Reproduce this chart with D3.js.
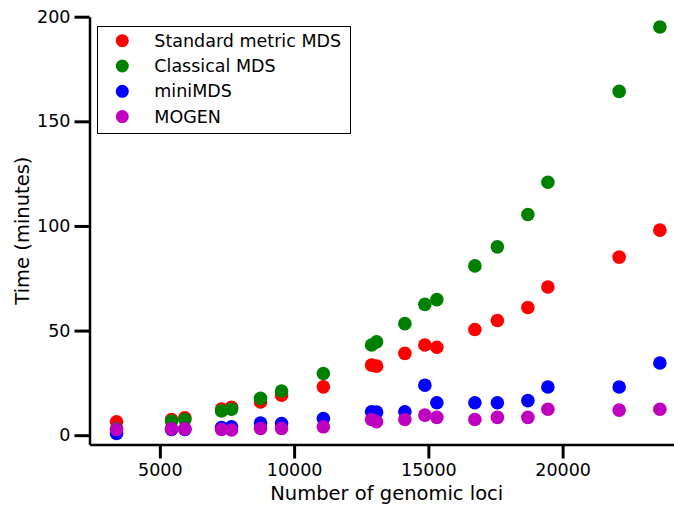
<!DOCTYPE html>
<html>
<head>
<meta charset="utf-8">
<script src="https://cdn.jsdelivr.net/npm/d3@7"></script>
<style>
  body { margin: 0; background: #fff; }
  text { font-family: "DejaVu Sans", sans-serif; fill: #000; }
</style>
</head>
<body>
<script>
// number of genomic loci per dataset
var loci = [3387, 5436, 5931, 7298, 7670, 8750, 9533, 11089, 12885, 13071,
            14125, 14870, 15317, 16732, 17570, 18706, 19451, 22106, 23622];

// run times in minutes
var standardMDS = [6.4, 7.5, 8.3, 12.5, 13.3, 15.9, 19.1, 23.1, 33.5, 33.0,
                   39.1, 43.1, 42.0, 50.5, 54.8, 61.0, 70.8, 85.1, 98.0];
var classicalMDS = [3.0, 6.8, 7.5, 11.6, 12.4, 17.6, 21.1, 29.5, 43.1, 44.6,
                    53.3, 62.5, 64.8, 80.9, 90.0, 105.5, 120.9, 164.3, 195.1];
var miniMDS = [0.8, 2.8, 2.8, 3.7, 4.0, 5.8, 5.6, 8.0, 11.2, 11.0,
               11.2, 23.9, 15.5, 15.5, 15.5, 16.5, 23.0, 23.0, 34.5];
var mogen = [2.7, 3.0, 3.0, 2.7, 2.5, 3.2, 3.2, 4.0, 7.5, 6.4,
             7.5, 9.6, 8.5, 7.5, 8.5, 8.5, 12.4, 12.0, 12.4];

var seriesNames = ["Standard metric MDS", "Classical MDS", "miniMDS", "MOGEN"];
var seriesColors = ["#ff0000", "#008000", "#0000ff", "#bf00bf"];
var seriesValues = [standardMDS, classicalMDS, miniMDS, mogen];

var xTicks = [5000, 10000, 15000, 20000];
var yTicks = [0, 50, 100, 150, 200];

var width = 674;
var height = 508;

var svg = d3.select("body").append("svg")
    .attr("width", width)
    .attr("height", height);

var x = d3.scaleLinear().domain([2380, 24200]).range([89.5, 675.4]);
var y = d3.scaleLinear().domain([-4.45, 200]).range([444.5, 16.7]);

//points
seriesValues.forEach(function(vals, s){
  svg.append("g").selectAll("circle")
    .data(vals)
    .enter().append("circle")
    .attr("cx", function(d, i){ return x(loci[i]); })
    .attr("cy", function(d){ return y(d); })
    .attr("r", 6.8)
    .attr("fill", seriesColors[s]);
});

//axes
var xAxis = svg.append("g")
    .attr("transform", "translate(0," + y.range()[0] + ")")
    .call(d3.axisBottom(x).tickValues(xTicks).tickFormat(d3.format("d"))
      .tickSize(14).tickSizeOuter(0).tickPadding(5));
var yAxis = svg.append("g")
    .attr("transform", "translate(" + x.range()[0] + ",0)")
    .call(d3.axisLeft(y).tickValues(yTicks).tickFormat(d3.format("d"))
      .tickSize(15).tickSizeOuter(0).tickPadding(4));

[xAxis, yAxis].forEach(function(a){
  a.select(".domain").attr("stroke", "#000").attr("stroke-width", 2.5);
  a.selectAll(".tick line").attr("stroke", "#000").attr("stroke-width", 3);
  a.selectAll(".tick text").style("font-size", "17.5px")
    .style("font-family", "DejaVu Sans, sans-serif").attr("fill", "#000");
});

svg.append("text")
    .attr("x", (x.range()[0] + 674) / 2 + 5)
    .attr("y", 500)
    .attr("text-anchor", "middle")
    .style("font-size", "19.5px")
    .text("Number of genomic loci");

svg.append("text")
    .attr("transform", "translate(29," + ((16.7 + 444.5) / 2) + ") rotate(-90)")
    .attr("text-anchor", "middle")
    .style("font-size", "19.5px")
    .text("Time (minutes)");

//legend
var legend = svg.append("g");
legend.append("rect")
    .attr("x", 97.5).attr("y", 26.5)
    .attr("width", 253).attr("height", 107)
    .attr("fill", "#fff")
    .attr("stroke", "#000")
    .attr("stroke-width", 1);

var rows = legend.selectAll(".row")
    .data(seriesNames)
  .enter().append("g")
    .attr("class", "row")
    .attr("transform", function(d, i){ return "translate(0," + (40.7 + i * 25.3) + ")"; });
rows.append("circle")
    .attr("cx", 122.3).attr("cy", 0).attr("r", 6.5)
    .attr("fill", function(d, i){ return seriesColors[i]; });
rows.append("text")
    .attr("x", 154.3).attr("y", 0).attr("dy", "0.35em")
    .style("font-size", "17.5px")
    .text(function(d){ return d; });
</script>
</body>
</html>
